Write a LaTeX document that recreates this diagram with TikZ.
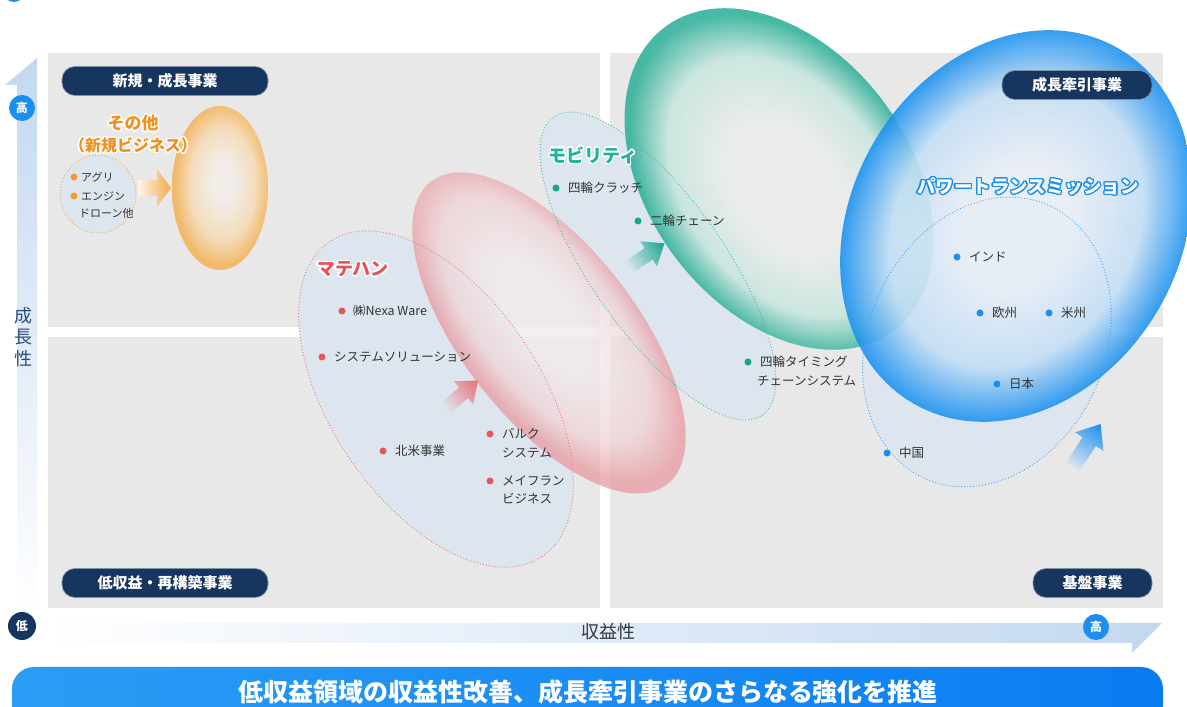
\documentclass[tikz,border=0pt]{standalone}
\usepackage{fontspec}
\setmainfont{Noto Sans CJK JP}
\usepackage[copies]{contour}
\contournumber{24}
\usetikzlibrary{calc}
\definecolor{navy}{HTML}{17365F}
\definecolor{hiblue}{HTML}{1A8FF0}
\definecolor{quad}{HTML}{E8E8E8}
\definecolor{grpfill}{HTML}{DDE5EE}
\definecolor{tgray}{HTML}{333333}
\definecolor{axisblue}{HTML}{2D4F80}
\definecolor{axisband}{HTML}{C3D8F0}
\definecolor{redD}{HTML}{E3565A}
\definecolor{redT}{HTML}{E8505A}
\definecolor{tealD}{HTML}{17A58E}
\definecolor{tealT}{HTML}{1FB39A}
\definecolor{blueD}{HTML}{1A8FF0}
\definecolor{orangeD}{HTML}{F39A2A}
\definecolor{orangeT}{HTML}{F0901E}
\definecolor{bannerL}{HTML}{2A9DF5}
\definecolor{bannerR}{HTML}{0A7CF2}
% shading colours
\definecolor{redC}{HTML}{F1EAEC}
\definecolor{redM}{HTML}{F0D3D6}
\definecolor{redE}{HTML}{E99AA0}
\definecolor{tealC}{HTML}{EBEDED}
\definecolor{tealM}{HTML}{C8E6DF}
\definecolor{tealE}{HTML}{34B29B}
\definecolor{blueC}{HTML}{E9EFF6}
\definecolor{blueM}{HTML}{C4DFF6}
\definecolor{blueE}{HTML}{1890F0}
\definecolor{oraC}{HTML}{F3EEE9}
\definecolor{oraM}{HTML}{F6DCB8}
\definecolor{oraE}{HTML}{F3B55E}
\pgfdeclareradialshading{redball}{\pgfpoint{-3bp}{2bp}}{color(0bp)=(redC);color(9bp)=(redC);color(19bp)=(redM);color(25bp)=(redE);color(50bp)=(redE)}
\pgfdeclareradialshading{tealball}{\pgfpoint{2bp}{0bp}}{color(0bp)=(tealC);color(10bp)=(tealC);color(19bp)=(tealM);color(25bp)=(tealE);color(50bp)=(tealE)}
\pgfdeclareradialshading{blueball}{\pgfpoint{0bp}{0bp}}{color(0bp)=(blueC);color(8bp)=(blueC);color(18bp)=(blueM);color(25bp)=(blueE);color(50bp)=(blueE)}
\pgfdeclareradialshading{oraball}{\pgfpoint{2bp}{2bp}}{color(0bp)=(oraC);color(6bp)=(oraC);color(17bp)=(oraM);color(25bp)=(oraE);color(50bp)=(oraE)}
\tikzset{
  pill/.style={fill=navy, draw=navy!55!white, line width=0.6pt, rounded corners=13pt,
    text=white, font=\bfseries\fontsize{15}{15}\selectfont, inner sep=0pt, minimum height=29pt},
  bul/.style={circle, fill=#1, inner sep=0pt, minimum size=7pt},
  lbl/.style={anchor=west, text=tgray, font=\fontsize{12.5}{14}\selectfont, inner sep=0pt},
  smalllbl/.style={anchor=west, text=tgray, font=\fontsize{11}{13}\selectfont, inner sep=0pt},
  grpline/.style={draw=#1, line width=1.3pt, line cap=round, dash pattern=on 0pt off 3pt},
  axcirc/.style={circle, inner sep=0pt, text=white, font=\bfseries\fontsize{12}{12}\selectfont},
  grptitle/.style={inner sep=0pt, font=\bfseries\fontsize{18}{18}\selectfont},
}
\begin{document}
\begin{tikzpicture}[x=1pt,y=1pt]
\useasboundingbox (0,0) rectangle (1187,707);
\fill[white] (0,0) rectangle (1187,707);
% cut-off heading marker
\fill[hiblue] (14,716) circle (11pt);
% quadrants
\fill[quad] (48,380) rectangle (600,654);
\fill[quad] (48,99) rectangle (600,370);
\fill[quad] (610,380) rectangle (1163,654);
\fill[quad] (610,99) rectangle (1163,370);
% axis bands
\shade[top color=axisband, bottom color=white] (37,649) -- (5,622) -- (17,622) -- (17,92) -- (37,92) -- cycle;
\shade[left color=white, right color=axisband] (40,84) -- (1162,84) -- (1132,54) -- (1132,64) -- (40,64) -- cycle;
% group fills
\begin{scope}[transform canvas={shift={(436,308)},rotate=-56}]
  \fill[grpfill] (0,0) ellipse [x radius=190pt, y radius=105pt];
\end{scope}
\begin{scope}[transform canvas={shift={(658,441)},rotate=-55}]
  \fill[grpfill] (0,0) ellipse [x radius=182pt, y radius=67pt];
\end{scope}
\begin{scope}[transform canvas={shift={(987,365)},rotate=65}]
  \fill[grpfill] (0,0) ellipse [x radius=150pt, y radius=118pt];
\end{scope}
\fill[grpfill] (98,513) ellipse [x radius=38pt, y radius=39pt];
% gradient ellipses
\shade[shading=oraball, opacity=0.92] (220,519) ellipse [x radius=48pt, y radius=82pt];
\begin{scope}[transform canvas={shift={(549,374)},rotate=-52}]
  \shade[shading=redball, opacity=0.75] (0,0) ellipse [x radius=192pt, y radius=87pt];
\end{scope}
\begin{scope}[transform canvas={shift={(779,528)},rotate=-53}]
  \shade[shading=tealball, opacity=0.9] (0,0) ellipse [x radius=190pt, y radius=130pt];
\end{scope}
\begin{scope}[transform canvas={shift={(1016,481)},rotate=60}]
  \shade[shading=blueball, opacity=0.88] (0,0) ellipse [x radius=205pt, y radius=165pt];
\end{scope}
% dotted borders
\begin{scope}[transform canvas={shift={(436,308)},rotate=-56}]
  \draw[grpline=redD!80!white] (0,0) ellipse [x radius=190pt, y radius=105pt];
\end{scope}
\begin{scope}[transform canvas={shift={(658,441)},rotate=-55}]
  \draw[grpline=tealD!80!white] (0,0) ellipse [x radius=182pt, y radius=67pt];
\end{scope}
\begin{scope}[transform canvas={shift={(987,365)},rotate=65}]
  \draw[grpline=blueD!80!white] (0,0) ellipse [x radius=150pt, y radius=118pt];
\end{scope}
\draw[grpline=orangeD!80!white] (98,513) ellipse [x radius=38pt, y radius=39pt];
% fat arrows
\shade[left color=orangeD!10!white, right color=orangeD!85!white] (138,527) -- (157,527) -- (157,538) -- (171,519) -- (157,500) -- (157,511) -- (138,511) -- cycle;
\begin{scope}[transform canvas={shift={(462,313)},rotate=40}]
  \shade[left color=grpfill, right color=redD!85!white] (-22,-7) -- (2,-7) -- (2,-15) -- (21,0) -- (2,15) -- (2,7) -- (-22,7) -- cycle;
\end{scope}
\begin{scope}[transform canvas={shift={(647,452)},rotate=34}]
  \shade[left color=grpfill, right color=tealD] (-22,-7) -- (2,-7) -- (2,-15) -- (21,0) -- (2,15) -- (2,7) -- (-22,7) -- cycle;
\end{scope}
\begin{scope}[transform canvas={shift={(1087,262)},rotate=57}]
  \shade[left color=grpfill, right color=blueD] (-26,-8) -- (4,-8) -- (4,-17) -- (25,0) -- (4,17) -- (4,8) -- (-26,8) -- cycle;
\end{scope}
% quadrant labels
\node[pill, minimum width=206pt] (p1) at (165,626) {新規・成長事業};
\node[pill, minimum width=150pt] (p2) at (1077,622) {成長牽引事業};
\node[pill, minimum width=206pt] (p3) at (165,124) {低収益・再構築事業};
\node[pill, minimum width=119pt] (p4) at (1092.5,124) {基盤事業};
% axes labels
\node[axcirc, fill=hiblue, minimum size=26pt] (hiY) at (22,599) {高};
\node[axcirc, fill=navy, minimum size=28pt] (lo) at (22,81) {低};
\node[axcirc, fill=hiblue, minimum size=26pt] (hiX) at (1096,80) {高};
\node[align=center, text=axisblue, font=\fontsize{18}{21.5}\selectfont, inner sep=0pt] (ylab) at (23,370) {成\\長\\性};
\node[text=tgray!80!axisblue, font=\fontsize{18}{18}\selectfont, inner sep=0pt] (xlab) at (608,75) {収益性};
% other (new business)
\contourlength{1.4pt}
\node[grptitle, font=\bfseries\fontsize{17}{17}\selectfont] (oth1) at (133,583) {\contour{white}{\textcolor{orangeT}{その他}}};
\node[grptitle, font=\bfseries\fontsize{16}{16}\selectfont] (oth2) at (133,561) {\contour{white}{\textcolor{orangeT}{（新規ビジネス）}}};
\node[bul=orangeD] (ob1) at (74,530) {};
\node[smalllbl] (ot1) at (81,530) {アグリ};
\node[bul=orangeD] (ob2) at (74,511) {};
\node[smalllbl] (ot2) at (81,511) {エンジン};
\node[smalllbl] (ot3) at (79,494) {ドローン他};
% material handling
\node[grptitle] (mh) at (353,437) {\contour{white}{\textcolor{redT}{マテハン}}};
\node[bul=redD] (rb1) at (342,396) {};
\node[lbl] (rt1) at (353,396) {㈱Nexa Ware};
\node[bul=redD] (rb2) at (322,350) {};
\node[lbl] (rt2) at (334,350) {システムソリューション};
\node[bul=redD] (rb3) at (383,256) {};
\node[lbl] (rt3) at (395,256) {北米事業};
\node[bul=redD] (rb4) at (490,273) {};
\node[lbl] (rt4a) at (502,273) {バルク};
\node[lbl] (rt4b) at (502,254) {システム};
\node[bul=redD] (rb5) at (490,226) {};
\node[lbl] (rt5a) at (502,226) {メイフラン};
\node[lbl] (rt5b) at (502,208) {ビジネス};
% mobility
\node[grptitle] (mob) at (593,551) {\contour{white}{\textcolor{tealT}{モビリティ}}};
\node[bul=tealD] (tb1) at (556,519) {};
\node[lbl] (tt1) at (568,519) {四輪クラッチ};
\node[bul=tealD] (tb2) at (638,486) {};
\node[lbl] (tt2) at (650,486) {二輪チェーン};
\node[bul=tealD] (tb3) at (748,345) {};
\node[lbl] (tt3a) at (760,345) {四輪タイミング};
\node[lbl] (tt3b) at (757,326) {チェーンシステム};
% power transmission
\contourlength{1.2pt}
\node[grptitle, font=\bfseries\fontsize{18.5}{18.5}\selectfont] (pt) at (1028,520) {\contour{hiblue}{\textcolor{white}{パワートランスミッション}}};
\node[bul=blueD] (bb1) at (957,450) {};
\node[lbl] (bt1) at (969,450) {インド};
\node[bul=blueD] (bb2) at (980,394) {};
\node[lbl] (bt2) at (992,394) {欧州};
\node[bul=blueD] (bb3) at (1049,394) {};
\node[lbl] (bt3) at (1061,394) {米州};
\node[bul=blueD] (bb4) at (997,323) {};
\node[lbl] (bt4) at (1009,323) {日本};
\node[bul=blueD] (bb5) at (887,254) {};
\node[lbl] (bt5) at (899,254) {中国};
% banner
\shade[left color=bannerL, right color=bannerR, rounded corners=22pt] (12,-20) rectangle (1163,40);
\node[text=white, font=\bfseries\fontsize{25}{25}\selectfont, inner sep=0pt] (ban) at (588,15) {低収益領域の収益性改善、成長牽引事業のさらなる強化を推進};
\end{tikzpicture}
\end{document}
